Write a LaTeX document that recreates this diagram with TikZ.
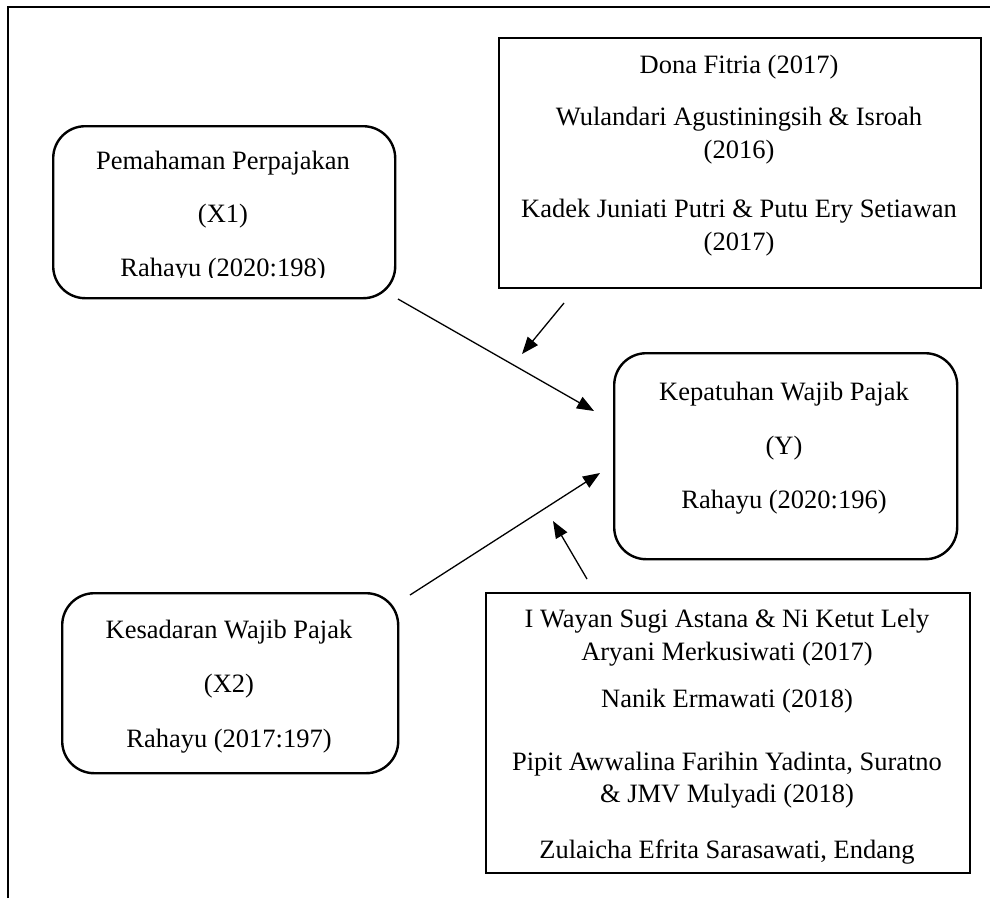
\documentclass[tikz,border=0pt]{standalone}
\usepackage{fontspec}
\setmainfont{Liberation Serif}
\usetikzlibrary{arrows.meta}
\begin{document}
\begin{tikzpicture}[x=1pt,y=-1pt,
  rbox/.style={draw, line width=2.4pt, rounded corners=32pt, inner sep=0pt, anchor=north west},
  sbox/.style={draw, line width=2.4pt, inner sep=0pt, anchor=north west},
  txt/.style={anchor=base, inner sep=0pt, font=\fontsize{26.5}{33}\selectfont},
  arr/.style={line width=1.3pt, -{Triangle[length=17pt,width=13pt]}},
  frameline/.style={line width=2pt}]
\useasboundingbox (0,0) rectangle (990,898);
% outer frame (top and left)
\coordinate (fa) at (8,898);
\coordinate (fb) at (8,7);
\coordinate (fc) at (990,7);
\draw[frameline] (fa) -- (fb) -- (fc);
% boxes
\node[rbox, minimum width=342pt, minimum height=172pt] (x1) at (52,125) {};
\node[sbox, minimum width=482pt, minimum height=250pt] (lit1) at (498,37) {};
\node[rbox, minimum width=343pt, minimum height=206pt] (y) at (613,352) {};
\node[rbox, minimum width=336pt, minimum height=180pt] (x2) at (61,592) {};
\node[sbox, minimum width=484pt, minimum height=280pt] (lit2) at (485,592) {};
% texts: top literature box
\node[txt] (t1a) at (739,73) {Dona Fitria (2017)};
\node[txt] (t1b) at (739,125) {Wulandari Agustiningsih \& Isroah};
\node[txt] (t1c) at (739,158) {(2016)};
\node[txt] (t1d) at (739,217) {Kadek Juniati Putri \& Putu Ery Setiawan};
\node[txt] (t1e) at (739,250) {(2017)};
% X1
\node[txt] (tx1a) at (223,169) {Pemahaman Perpajakan};
\node[txt] (tx1b) at (223,222) {(X1)};
\begin{scope}
\clip (40,240) rectangle (400,277.5);
\node[txt] (tx1c) at (223,276) {Rahayu (2020:198)};
\end{scope}
% Y
\node[txt] (tya) at (784,400) {Kepatuhan Wajib Pajak};
\node[txt] (tyb) at (784,454) {(Y)};
\node[txt] (tyc) at (784,508) {Rahayu (2020:196)};
% X2
\node[txt] (tx2a) at (229,638) {Kesadaran Wajib Pajak};
\node[txt] (tx2b) at (229,692) {(X2)};
\node[txt] (tx2c) at (229,747) {Rahayu (2017:197)};
% bottom literature box
\node[txt] (t2a) at (727,627) {I Wayan Sugi Astana \& Ni Ketut Lely};
\node[txt] (t2b) at (727,660) {Aryani Merkusiwati (2017)};
\node[txt] (t2c) at (727,707) {Nanik Ermawati (2018)};
\node[txt] (t2d) at (727,770) {Pipit Awwalina Farihin Yadinta, Suratno};
\node[txt] (t2e) at (727,802) {\& JMV Mulyadi (2018)};
\begin{scope}
\clip (487,820) rectangle (967,863);
\node[txt] (t2f) at (727,858) {Zulaicha Efrita Sarasawati, Endang};
\end{scope}
% arrows
\coordinate (a1s) at (398,299);
\coordinate (a1e) at (594,411);
\coordinate (a2s) at (564,303);
\coordinate (a2e) at (522,354);
\coordinate (a3s) at (410,595);
\coordinate (a3e) at (600,473);
\coordinate (a4s) at (587,579);
\coordinate (a4e) at (553,521);
\draw[arr] (a1s) -- (a1e);
\draw[arr] (a2s) -- (a2e);
\draw[arr] (a3s) -- (a3e);
\draw[arr] (a4s) -- (a4e);
\end{tikzpicture}
\end{document}
